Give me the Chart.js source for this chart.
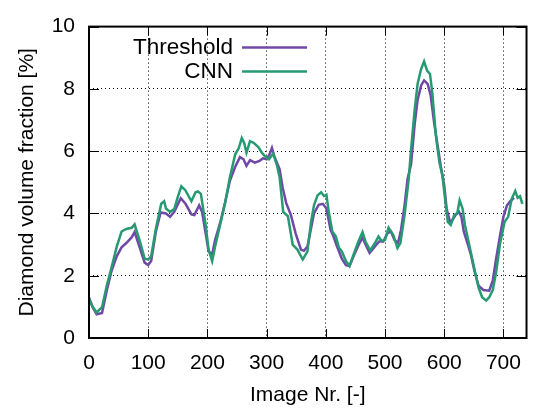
<!DOCTYPE html>
<html>
<head>
<meta charset="utf-8">
<script src="https://cdn.jsdelivr.net/npm/chart.js@4"></script>
<style>
  html, body { margin: 0; padding: 0; background: #fff; }
  canvas { display: block; }
</style>
</head>
<body>
<canvas id="chart" width="534" height="408"></canvas>
<script>
// threshold curve
const thresholdX = [0, 6, 13, 22, 30, 38, 47, 55, 63, 72, 77, 86, 94, 100, 105, 113, 121, 130, 137, 144,
  155, 163, 173, 178, 186, 191, 197, 202, 208, 213, 222, 230, 238, 247, 255, 261, 266, 272, 280, 288,
  294, 300, 305, 309, 313, 322, 327, 333, 341, 349, 358, 363, 369, 375, 380, 388, 395, 401, 408, 413,
  419, 427, 434, 440, 447, 455, 462, 467, 474, 483, 490, 497, 504, 510, 516, 522, 527, 533, 538, 544,
  550, 555, 561, 566, 572, 577, 583, 589, 594, 600, 604, 610, 614, 619, 625, 629, 633, 640, 645, 651,
  658, 666, 676, 682, 687, 694, 700, 706, 712, 718];
const thresholdY = [1.3, 1.0, 0.76, 0.8, 1.52, 2.15, 2.63, 2.91, 3.05, 3.23, 3.4, 2.89, 2.42, 2.34, 2.47, 3.42, 4.03, 4.0, 3.89, 4.05,
  4.49, 4.31, 3.97, 3.95, 4.26, 4.05, 3.36, 2.78, 2.68, 3.15, 3.73, 4.37, 5.05, 5.5, 5.81, 5.74, 5.53, 5.71, 5.63, 5.69,
  5.77, 5.74, 5.9, 6.1, 5.84, 5.42, 4.84, 4.34, 3.95, 3.36, 2.84, 2.8, 2.94, 3.52, 4.0, 4.28, 4.31, 4.16, 3.47, 3.26,
  2.94, 2.55, 2.34, 2.31, 2.63, 2.97, 3.23, 3.0, 2.73, 2.94, 3.1, 3.1, 3.36, 3.42, 3.15, 3.05, 3.47, 4.26, 5.1, 5.58,
  6.85, 7.64, 8.11, 8.27, 8.16, 7.8, 6.9, 6.16, 5.53, 4.9, 4.16, 3.71, 3.79, 3.95, 4.05, 3.89, 3.42, 3.0, 2.68, 2.15,
  1.68, 1.54, 1.52, 1.84, 2.47, 3.26, 3.89, 4.26, 4.4, 4.5];

// CNN curve
const cnnX = [0, 6, 13, 22, 30, 38, 47, 55, 63, 72, 77, 86, 94, 100, 105, 113, 122, 127, 130, 137,
  144, 150, 156, 163, 173, 180, 184, 189, 197, 202, 208, 213, 222, 230, 238, 247, 253, 258, 262, 266,
  272, 278, 286, 292, 297, 304, 311, 317, 322, 328, 336, 344, 352, 361, 369, 375, 380, 386, 392, 397,
  401, 405, 411, 417, 422, 427, 434, 440, 447, 455, 462, 467, 475, 483, 489, 494, 500, 506, 514, 521,
  526, 533, 540, 544, 550, 555, 561, 566, 571, 576, 580, 586, 592, 597, 602, 606, 611, 617, 622, 626,
  631, 635, 641, 647, 653, 658, 664, 671, 676, 682, 688, 694, 702, 708, 714, 720, 724, 728, 732];
const cnnY = [1.25, 1.0, 0.82, 0.99, 1.68, 2.26, 2.94, 3.42, 3.5, 3.54, 3.65, 3.1, 2.55, 2.52, 2.63, 3.52, 4.31, 4.39, 4.16, 4.05,
  4.14, 4.53, 4.87, 4.74, 4.39, 4.68, 4.71, 4.63, 3.63, 2.84, 2.47, 2.94, 3.68, 4.34, 5.16, 5.9, 6.1, 6.42, 6.27, 5.95,
  6.32, 6.27, 6.13, 5.95, 5.84, 5.74, 5.92, 5.58, 5.16, 4.05, 3.91, 3.0, 2.84, 2.52, 2.78, 3.73, 4.26, 4.58, 4.68, 4.56,
  4.6, 4.05, 3.42, 3.26, 2.91, 2.78, 2.47, 2.31, 2.68, 3.1, 3.4, 3.1, 2.81, 3.05, 3.26, 3.12, 3.15, 3.54, 3.31, 2.89,
  3.05, 3.95, 5.1, 6.05, 7.32, 8.16, 8.64, 8.88, 8.59, 8.48, 7.85, 6.48, 5.63, 5.21, 4.37, 3.73, 3.63, 3.95, 4.0, 4.42,
  4.16, 3.63, 3.1, 2.57, 2.05, 1.62, 1.31, 1.2, 1.31, 1.54, 2.15, 3.0, 3.73, 3.89, 4.47, 4.72, 4.5, 4.55, 4.31];

const seriesNames = ['Threshold', 'CNN'];
const seriesColors = ['#7048a6', '#279a74'];

// tick labels
const xTicks = [0, 100, 200, 300, 400, 500, 600, 700];
const yTicks = [0, 2, 4, 6, 8, 10];

const FONT = '"Liberation Sans", Arial, sans-serif';

let toPoints = (xs, ys) => xs.map((x, i) => ({ x, y: ys[i] }));

// border box, inward ticks and the key in the upper left, like gnuplot
let framePlugin = {
  id: 'frame',
  afterDatasetsDraw(chart) {
    let { ctx, chartArea: a, scales: { x, y } } = chart;
    ctx.save();
    ctx.strokeStyle = '#000';
    ctx.lineWidth = 1;
    ctx.beginPath();
    x.ticks.forEach((t, i) => {
      let px = Math.round(x.getPixelForTick(i)) + 0.5;
      ctx.moveTo(px, a.bottom); ctx.lineTo(px, a.bottom - 9);
      ctx.moveTo(px, a.top); ctx.lineTo(px, a.top + 9);
    });
    y.ticks.forEach((t, i) => {
      let py = Math.round(y.getPixelForTick(i)) + 0.5;
      ctx.moveTo(a.left, py); ctx.lineTo(a.left + 10, py);
      ctx.moveTo(a.right, py); ctx.lineTo(a.right - 10, py);
    });
    ctx.stroke();
    ctx.lineWidth = 2;
    ctx.strokeRect(a.left, a.top, a.right - a.left, a.bottom - a.top);

    // key
    ctx.font = '22.5px ' + FONT;
    ctx.fillStyle = '#000';
    ctx.textAlign = 'right';
    ctx.textBaseline = 'middle';
    chart.data.datasets.forEach((ds, i) => {
      let ly = a.top + 21 + i * 24;
      ctx.fillText(ds.label, a.left + 144, ly);
      ctx.strokeStyle = ds.borderColor;
      ctx.lineWidth = 2.5;
      ctx.beginPath();
      ctx.moveTo(a.left + 153, ly);
      ctx.lineTo(a.left + 218, ly);
      ctx.stroke();
    });
    ctx.restore();
  }
};

new Chart(document.getElementById('chart').getContext('2d'), {
  type: 'line',
  data: {
    datasets: [
      {
        label: seriesNames[0],
        data: toPoints(thresholdX, thresholdY),
        borderColor: seriesColors[0],
        borderWidth: 2.5,
        pointRadius: 0,
        order: 2
      },
      {
        label: seriesNames[1],
        data: toPoints(cnnX, cnnY),
        borderColor: seriesColors[1],
        borderWidth: 2.5,
        pointRadius: 0,
        order: 1
      }
    ]
  },
  options: {
    responsive: false,
    animation: false,
    layout: { padding: { top: 22, right: 1, left: 0, bottom: 0 } },
    plugins: { legend: { display: false }, tooltip: { enabled: false } },
    scales: {
      x: {
        type: 'linear',
        min: 0,
        max: 739,
        afterBuildTicks: s => { s.ticks = xTicks.map(value => ({ value })); },
        afterFit: s => { s.height = 70; },
        ticks: {
          padding: 13,
          color: '#000',
          font: { family: FONT, size: 21 }
        },
        grid: { color: '#000', lineWidth: 1, drawTicks: false },
        border: { display: false, dash: [1, 3] },
        title: {
          display: true,
          text: 'Image Nr. [-]',
          color: '#000',
          font: { family: FONT, size: 21 },
          padding: { top: 0, bottom: 0 }
        }
      },
      y: {
        min: 0,
        max: 10,
        afterBuildTicks: s => { s.ticks = yTicks.map(value => ({ value })); },
        afterFit: s => { s.width = 89; },
        ticks: {
          padding: 14,
          color: '#000',
          font: { family: FONT, size: 21 }
        },
        grid: { color: '#000', lineWidth: 1, drawTicks: false },
        border: { display: false, dash: [1, 3] },
        title: {
          display: true,
          text: 'Diamond volume fraction [%]',
          color: '#000',
          font: { family: FONT, size: 21 },
          padding: { top: 15, bottom: 0 }
        }
      }
    }
  },
  plugins: [framePlugin]
});
</script>
</body>
</html>
